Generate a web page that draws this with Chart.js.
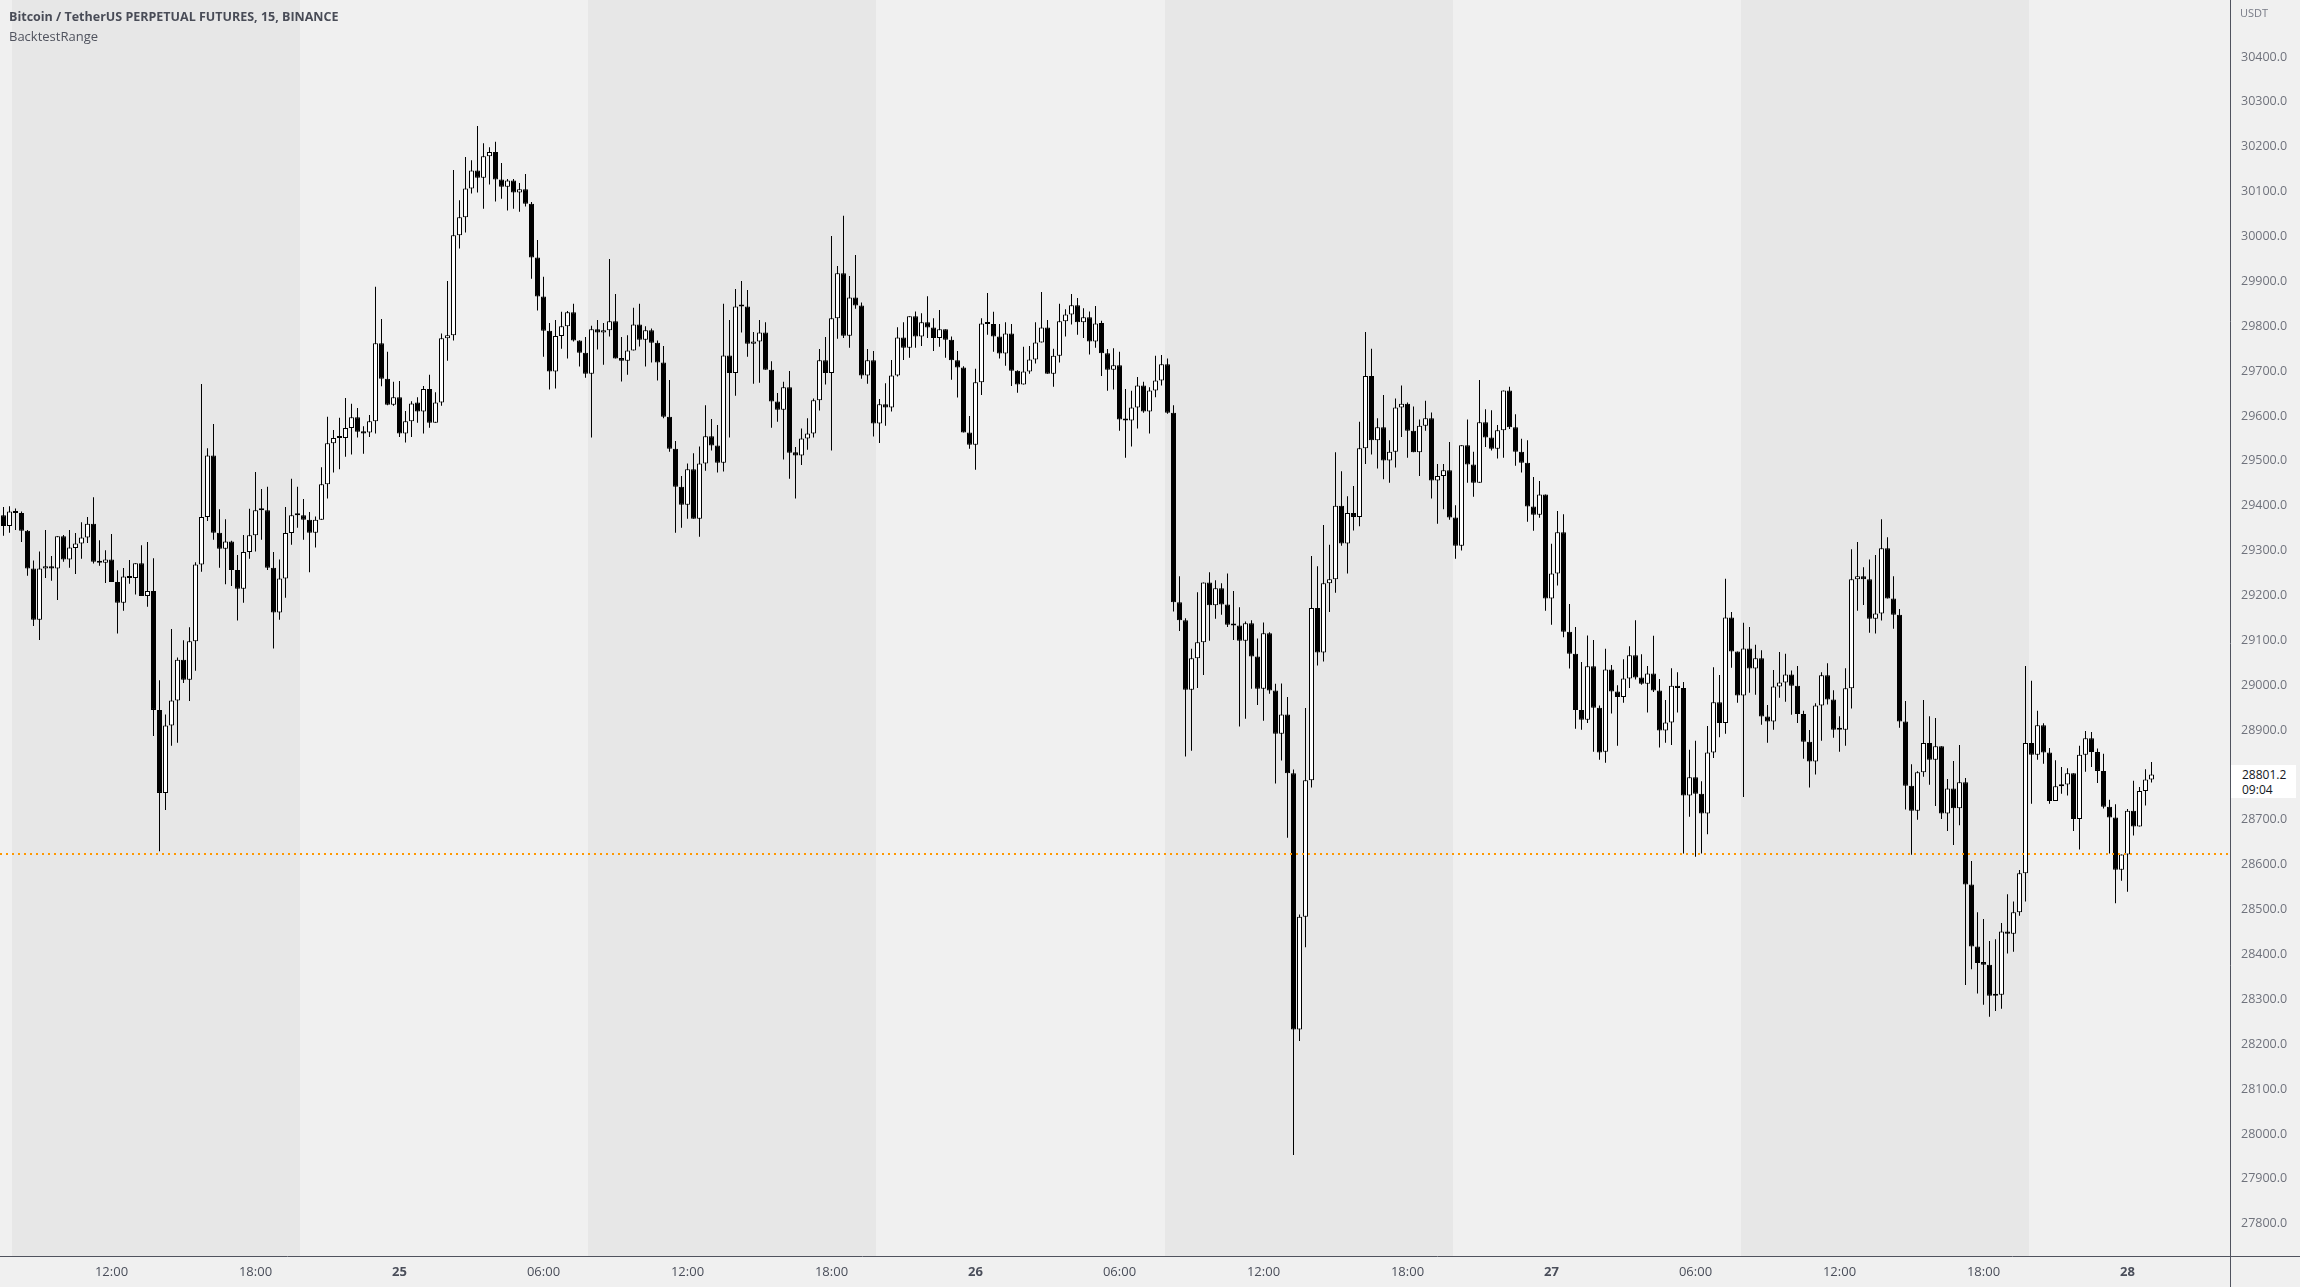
<!DOCTYPE html>
<html>
<head>
<meta charset="utf-8">
<title>BTCUSDT.P 15 - BacktestRange</title>
<script src="https://cdn.jsdelivr.net/npm/chart.js@4.4.0/dist/chart.umd.min.js"></script>
<style>
  html, body { margin: 0; padding: 0; background: #f0f0f0; }
  #wrap { position: relative; width: 2300px; height: 1287px; overflow: hidden; }
  #chart { display: block; }
  .overlay { position: absolute; font-family: 'Open Sans', sans-serif; white-space: nowrap; }
  #title { left: 9px; top: 8px; font-size: 12.5px; font-weight: bold; color: #494c57; }
  #indicator { left: 9px; top: 27px; font-size: 13px; color: #50535e; }
  #unit { left: 2240px; top: 5px; font-size: 11px; color: #787b86; }
  #lastTag { left: 2231px; width: 65px; height: 33px; background: #ffffff; }
  #lastTag div { position: absolute; left: 11px; font-size: 12px; line-height: 14px; color: #131722; }
</style>
</head>
<body>
<div id="wrap">
  <canvas id="chart" width="2300" height="1287"></canvas>
  <div id="title" class="overlay">Bitcoin / TetherUS PERPETUAL FUTURES, 15, BINANCE</div>
  <div id="indicator" class="overlay">BacktestRange</div>
  <div id="unit" class="overlay">USDT</div>
  <div id="lastTag" class="overlay"><div id="lastPrice" style="top:3px"></div><div id="countdown" style="top:18px">09:04</div></div>
</div>
<script>
// 15 minute candles, first one is 24th 07:30
const opens = [
  29379,29355,29387,29384,29344,29260,29146,29260,29265,29260,
  29332,29280,29306,29316,29329,29360,29277,29273,29280,29230,
  29184,29242,29239,29272,29199,29210,28945,28760,28910,28966,
  29057,29012,29098,29269,29375,29512,29340,29304,29320,29257,
  29215,29297,29334,29390,29390,29262,29162,29238,29339,29379,
  29379,29369,29340,29369,29448,29539,29551,29551,29573,29597,
  29566,29563,29588,29762,29683,29625,29642,29561,29588,29630,
  29610,29660,29585,29630,29773,29780,30003,30043,30107,30147,
  30131,30179,30188,30127,30111,30125,30098,30105,30073,29953,
  29866,29790,29699,29778,29800,29831,29768,29741,29694,29793,
  29786,29791,29811,29729,29723,29746,29804,29770,29791,29763,
  29719,29598,29527,29442,29402,29481,29371,29494,29555,29534,
  29496,29735,29696,29844,29844,29761,29766,29786,29703,29632,
  29614,29664,29519,29512,29550,29561,29635,29724,29696,29818,
  29918,29779,29864,29846,29690,29724,29583,29626,29619,29690,
  29775,29752,29822,29777,29809,29797,29774,29793,29770,29724,
  29708,29563,29536,29675,29806,29805,29777,29739,29784,29701,
  29670,29699,29726,29764,29797,29694,29734,29811,29826,29847,
  29809,29820,29766,29807,29740,29703,29713,29592,29590,29619,
  29668,29610,29657,29679,29715,29607,29185,29145,28990,29060,
  29096,29229,29178,29216,29180,29136,29133,29099,29138,29064,
  28992,29116,28988,28892,28935,28804,28233,28484,28788,29172,
  29073,29227,29236,29400,29316,29384,29375,29528,29689,29546,
  29575,29501,29520,29619,29627,29567,29519,29578,29595,29456,
  29466,29479,29374,29311,29535,29492,29451,29586,29552,29527,
  29568,29657,29575,29520,29496,29398,29380,29425,29193,29249,
  29341,29119,29070,28945,28923,29042,28950,28852,29035,28986,
  28974,29015,29067,29017,29003,29026,28988,28899,28917,28999,
  28994,28754,28795,28758,28714,28850,28962,28916,29151,29075,
  28977,29082,29037,29060,28930,28919,28997,29006,29024,28999,
  28936,28874,28830,28955,29022,28968,28903,28901,28993,29236,
  29243,29236,29148,29160,29305,29193,29157,28919,28776,28720,
  28806,28871,28834,28864,28714,28770,28726,28784,28556,28418,
  28383,28377,28308,28310,28451,28446,28494,28581,28871,28845,
  28911,28850,28742,28775,28779,28804,28702,28845,28882,28851,
  28809,28729,28705,28589,28623,28720,28685,28764,28790
];
const highs = [
  29397,29399,29394,29387,29346,29278,29298,29346,29288,29332,
  29335,29346,29339,29363,29375,29419,29323,29301,29337,29256,
  29261,29279,29272,29312,29319,29283,29011,28935,29125,29062,
  29100,29129,29274,29671,29528,29582,29392,29370,29322,29290,
  29335,29393,29475,29437,29442,29297,29280,29397,29460,29442,
  29415,29386,29376,29486,29598,29569,29596,29640,29627,29618,
  29577,29602,29888,29816,29743,29676,29678,29611,29633,29642,
  29667,29692,29653,29784,29901,30148,30081,30177,30170,30246,
  30208,30199,30211,30164,30128,30128,30119,30139,30077,29992,
  29910,29807,29814,29832,29834,29850,29769,29776,29801,29814,
  29807,29950,29872,29776,29780,29841,29850,29800,29795,29768,
  29756,29680,29544,29466,29494,29517,29532,29624,29593,29580,
  29850,29814,29883,29901,29881,29787,29814,29809,29722,29651,
  29676,29700,29531,29572,29595,29639,29749,29776,30001,29934,
  30046,29912,29959,29853,29749,29745,29638,29673,29725,29798,
  29809,29822,29833,29829,29867,29818,29836,29793,29777,29745,
  29711,29600,29705,29818,29874,29832,29805,29809,29805,29702,
  29754,29756,29809,29876,29814,29750,29850,29838,29872,29863,
  29840,29833,29845,29812,29749,29751,29743,29660,29656,29687,
  29676,29664,29734,29736,29728,29624,29243,29149,29081,29207,
  29229,29252,29234,29227,29249,29210,29174,29142,29145,29104,
  29140,29118,29003,29004,28974,28812,28489,28949,29288,29265,
  29357,29313,29519,29477,29421,29444,29587,29787,29750,29595,
  29647,29546,29639,29668,29630,29621,29592,29634,29608,29493,
  29493,29542,29401,29535,29592,29520,29680,29615,29613,29580,
  29657,29665,29604,29549,29546,29464,29455,29425,29315,29388,
  29381,29181,29130,29052,29111,29101,28955,29081,29045,29000,
  29058,29087,29145,29069,29043,29110,29014,28967,29038,29029,
  29007,28856,28876,28786,28909,29040,29023,29237,29163,29075,
  29139,29130,29090,29078,28956,29034,29074,29070,29033,29043,
  28943,28900,28960,29029,29049,28989,28931,29038,29303,29319,
  29263,29280,29290,29370,29330,29243,29170,28965,28824,28808,
  28967,28931,28927,28864,28791,28831,28867,28793,28608,28494,
  28479,28430,28434,28470,28534,28518,28588,29043,29010,28943,
  28915,28860,28833,28818,28815,28804,28865,28898,28896,28859,
  28847,28745,28735,28623,28724,28787,28773,28813,28829
];
const lows = [
  29333,29340,29346,29319,29244,29132,29101,29239,29233,29190,
  29275,29262,29248,29282,29317,29271,29266,29228,29230,29115,
  29166,29226,29202,29199,29175,28887,28630,28722,28865,28872,
  29005,28965,29032,29253,29366,29324,29262,29225,29221,29144,
  29184,29282,29298,29324,29257,29082,29146,29195,29313,29351,
  29324,29252,29307,29369,29416,29474,29481,29509,29514,29552,
  29516,29553,29561,29666,29624,29623,29553,29541,29553,29585,
  29561,29574,29585,29623,29723,29768,29973,30009,30096,30098,
  30062,30116,30078,30084,30058,30062,30055,30067,29906,29835,
  29732,29659,29661,29750,29728,29766,29710,29685,29552,29748,
  29714,29777,29728,29677,29692,29746,29755,29710,29719,29679,
  29595,29520,29340,29351,29371,29371,29331,29478,29523,29474,
  29476,29552,29645,29786,29732,29672,29674,29703,29574,29587,
  29503,29460,29416,29491,29525,29552,29612,29670,29523,29772,
  29774,29752,29839,29683,29672,29554,29540,29578,29610,29688,
  29725,29730,29752,29756,29774,29745,29754,29730,29681,29641,
  29563,29527,29480,29647,29781,29743,29728,29712,29667,29652,
  29670,29694,29717,29764,29694,29665,29719,29777,29804,29781,
  29774,29737,29752,29689,29656,29659,29567,29507,29532,29572,
  29607,29561,29642,29668,29605,29164,29121,28841,28854,28994,
  29023,29099,29148,29157,29130,29101,28908,28925,28992,28956,
  28921,28981,28781,28832,28660,27953,28207,28416,28772,29044,
  29053,29163,29206,29311,29249,29345,29354,29493,29514,29483,
  29459,29451,29485,29553,29507,29519,29466,29567,29416,29360,
  29392,29369,29282,29300,29451,29420,29451,29531,29523,29505,
  29507,29571,29489,29474,29364,29344,29373,29166,29135,29222,
  29107,29037,28903,28901,28916,28852,28834,28827,28937,28865,
  28961,28994,29013,29001,28939,28985,28861,28872,28867,28939,
  28625,28707,28618,28625,28668,28838,28884,28892,29039,28961,
  28751,28983,28979,28912,28872,28901,28972,28963,28934,28916,
  28836,28772,28801,28876,28957,28883,28852,28865,28948,29166,
  29179,29117,29115,29144,29193,29126,28905,28723,28622,28700,
  28796,28778,28731,28702,28675,28644,28688,28332,28367,28313,
  28288,28261,28274,28279,28402,28406,28486,28518,28736,28834,
  28825,28736,28742,28758,28754,28675,28634,28807,28818,28782,
  28725,28625,28514,28564,28540,28665,28685,28732,28783
];
const closes = [
  29355,29387,29384,29344,29260,29146,29260,29265,29260,29332,
  29280,29307,29316,29329,29360,29275,29273,29280,29230,29184,
  29242,29239,29272,29199,29210,28945,28760,28910,28966,29057,
  29012,29098,29269,29375,29512,29340,29304,29320,29257,29215,
  29297,29334,29390,29391,29262,29162,29238,29339,29379,29379,
  29369,29340,29369,29448,29539,29551,29551,29573,29597,29565,
  29561,29588,29762,29683,29625,29642,29561,29588,29628,29610,
  29660,29585,29630,29773,29780,30003,30043,30107,30147,30131,
  30179,30188,30127,30111,30125,30098,30105,30073,29953,29866,
  29790,29699,29778,29800,29831,29768,29741,29694,29793,29786,
  29791,29811,29728,29723,29746,29804,29770,29791,29763,29719,
  29598,29527,29442,29402,29481,29371,29494,29555,29534,29496,
  29735,29696,29844,29844,29761,29766,29786,29703,29632,29614,
  29664,29518,29512,29550,29561,29635,29724,29696,29818,29918,
  29779,29864,29846,29690,29724,29583,29626,29619,29690,29775,
  29752,29822,29777,29809,29797,29774,29793,29770,29724,29708,
  29563,29536,29675,29806,29805,29777,29739,29784,29701,29670,
  29699,29726,29764,29797,29694,29734,29811,29826,29847,29809,
  29820,29766,29806,29740,29703,29713,29592,29590,29619,29668,
  29610,29657,29679,29715,29607,29185,29145,28990,29060,29096,
  29229,29178,29216,29180,29135,29133,29099,29138,29064,28992,
  29116,28988,28892,28935,28804,28233,28484,28788,29172,29073,
  29227,29236,29400,29316,29384,29375,29528,29689,29546,29575,
  29501,29520,29619,29627,29567,29519,29578,29595,29456,29466,
  29479,29374,29311,29535,29492,29451,29586,29552,29527,29568,
  29657,29575,29520,29496,29398,29380,29425,29193,29249,29341,
  29119,29070,28945,28923,29042,28950,28850,29035,28986,28974,
  29015,29067,29017,29003,29026,28988,28899,28917,28999,28994,
  28754,28795,28758,28714,28850,28962,28916,29151,29075,28977,
  29082,29037,29060,28930,28919,28997,29006,29024,28999,28936,
  28874,28830,28955,29022,28968,28901,28901,28993,29236,29243,
  29236,29148,29160,29305,29193,29157,28919,28776,28720,28806,
  28871,28834,28864,28714,28770,28726,28784,28556,28418,28381,
  28377,28308,28310,28451,28446,28494,28581,28871,28845,28911,
  28850,28742,28775,28779,28804,28702,28845,28882,28851,28809,
  28729,28705,28589,28623,28720,28685,28764,28790,28801.2
];

// time axis labels (candle index -> label)
const xTickIndex = [18, 42, 66, 90, 114, 138, 162, 186, 210, 234, 258, 282, 306, 330, 354];
const xTickLabels = ['12:00', '18:00', '25', '06:00', '12:00', '18:00', '26', '06:00', '12:00', '18:00', '27', '06:00', '12:00', '18:00', '28'];
const dayLabels = ['25', '26', '27', '28'];

// price axis
const yTicks = [27800, 27900, 28000, 28100, 28200, 28300, 28400, 28500, 28600, 28700, 28800, 28900, 29000,
  29100, 29200, 29300, 29400, 29500, 29600, 29700, 29800, 29900, 30000, 30100, 30200, 30300, 30400];
const yMin = 27728;
const yMax = 30527;

// 08:00 - 20:00 sessions (first and last candle index inside)
const sessionStart = [2, 98, 194, 290];
const sessionEnd = [49, 145, 241, 337];

// BacktestRange level
const backtestLevel = 28624;

const AXIS_COLOR = '#50535e';
const FONT = "'Open Sans', sans-serif";

// background sessions, backtest line, axis lines
const chartDecor = {
  id: 'chartDecor',
  beforeDraw(chart) {
    const { ctx, chartArea: a, scales: { x } } = chart;
    ctx.save();
    ctx.fillStyle = '#f0f0f0';
    ctx.fillRect(0, 0, chart.width, chart.height);
    ctx.fillStyle = '#e7e7e7';
    sessionStart.forEach((s, k) => {
      const x0 = Math.round(x.getPixelForValue(s - 0.5));
      const x1 = Math.round(x.getPixelForValue(sessionEnd[k] + 0.5));
      ctx.fillRect(x0, a.top, x1 - x0, a.bottom - a.top);
    });
    ctx.restore();
  },
  afterDatasetsDraw(chart) {
    const { ctx, chartArea: a, scales: { y } } = chart;
    const py = Math.round(y.getPixelForValue(backtestLevel));
    ctx.save();
    ctx.strokeStyle = '#ff9800';
    ctx.lineWidth = 2;
    ctx.setLineDash([2, 4]);
    ctx.beginPath();
    ctx.moveTo(a.left, py);
    ctx.lineTo(a.right, py);
    ctx.stroke();
    ctx.restore();
  },
  afterDraw(chart) {
    const { ctx, chartArea: a } = chart;
    ctx.save();
    ctx.strokeStyle = AXIS_COLOR;
    ctx.lineWidth = 1;
    ctx.beginPath();
    ctx.moveTo(Math.round(a.right) + 0.5, 0);
    ctx.lineTo(Math.round(a.right) + 0.5, chart.height);
    ctx.moveTo(0, Math.round(a.bottom) + 0.5);
    ctx.lineTo(chart.width, Math.round(a.bottom) + 0.5);
    ctx.stroke();
    ctx.restore();
  }
};

const wickData = lows.map((l, i) => ({ x: i, y: [l, highs[i]] }));
const bodyData = opens.map((o, i) => ({ x: i, y: [o, closes[i]] }));
const bodyColors = opens.map((o, i) => closes[i] >= o ? '#ffffff' : '#000000');

const ctx = document.getElementById('chart').getContext('2d');
const chart = new Chart(ctx, {
  type: 'bar',
  data: {
    datasets: [
      {
        label: 'wick',
        data: wickData,
        backgroundColor: '#000000',
        borderWidth: 0,
        barThickness: 1,
        minBarLength: 1,
        grouped: false,
        inflateAmount: 0,
        order: 1
      },
      {
        label: 'body',
        data: bodyData,
        backgroundColor: bodyColors,
        borderColor: '#000000',
        borderWidth: 1,
        borderSkipped: false,
        barThickness: 5,
        minBarLength: 2,
        grouped: false,
        inflateAmount: 0,
        order: 0
      }
    ]
  },
  options: {
    responsive: false,
    animation: false,
    events: [],
    layout: { padding: 0 },
    plugins: {
      legend: { display: false },
      tooltip: { enabled: false }
    },
    scales: {
      x: {
        type: 'linear',
        min: -0.5833,
        max: 371.0833,
        offset: false,
        grid: { display: false, drawTicks: false },
        border: { display: false },
        ticks: {
          padding: 8,
          color: '#4a4e5a',
          font: (c) => ({
            family: FONT,
            size: 13,
            weight: c.tick && dayLabels.includes(xTickLabels[xTickIndex.indexOf(c.tick.value)]) ? 'bold' : 'normal'
          }),
          maxRotation: 0,
          autoSkip: false,
          callback: (v) => {
            const k = xTickIndex.indexOf(v);
            return k >= 0 ? xTickLabels[k] : null;
          }
        },
        afterBuildTicks: (scale) => {
          scale.ticks = xTickIndex.map(v => ({ value: v }));
        },
        afterFit: (scale) => {
          scale.height = 31;
          scale.paddingLeft = 0;
          scale.paddingRight = 0;
        }
      },
      y: {
        type: 'linear',
        position: 'right',
        min: yMin,
        max: yMax,
        grid: { display: false, drawTicks: false },
        border: { display: false },
        ticks: {
          padding: 11,
          color: '#6f727c',
          font: { family: FONT, size: 12.5 },
          callback: (v) => v.toFixed(1)
        },
        afterBuildTicks: (scale) => {
          scale.ticks = yTicks.map(v => ({ value: v }));
        },
        afterFit: (scale) => {
          scale.width = 70;
          scale.paddingTop = 0;
          scale.paddingBottom = 0;
        }
      }
    }
  },
  plugins: [chartDecor]
});

// last price tag on the price axis
const lastClose = closes[closes.length - 1];
document.getElementById('lastPrice').textContent = lastClose.toFixed(1);
document.getElementById('lastTag').style.top = (chart.scales.y.getPixelForValue(lastClose) - 9) + 'px';
</script>
</body>
</html>
